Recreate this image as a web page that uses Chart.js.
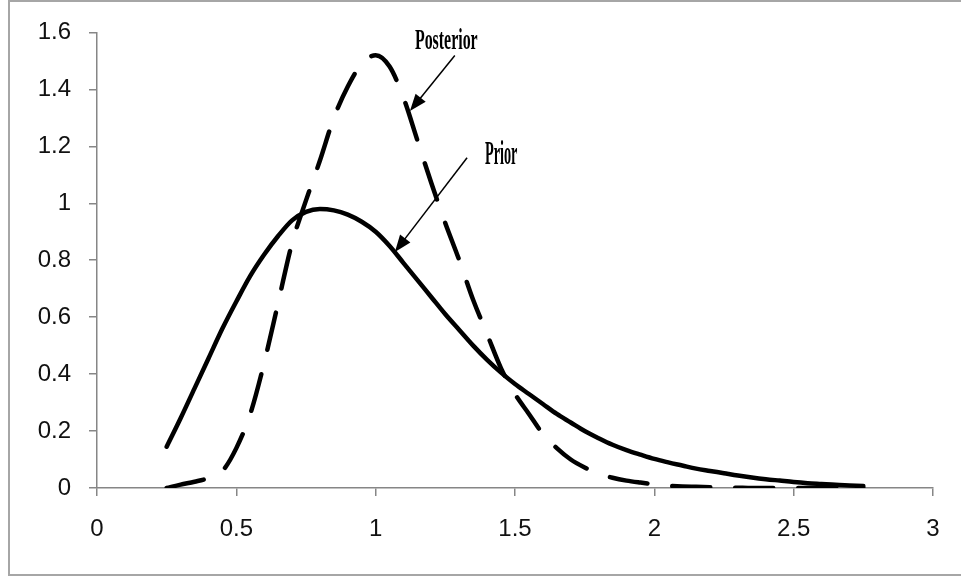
<!DOCTYPE html>
<html>
<head>
<meta charset="utf-8">
<script src="https://cdn.jsdelivr.net/npm/chart.js@4.4.1/dist/chart.umd.min.js"></script>
<style>
  html, body { margin: 0; padding: 0; background: #fff; }
  #wrap { width: 961px; height: 577px; position: relative; }
</style>
</head>
<body>
<div id="wrap"><canvas id="myChart" width="961" height="577"></canvas></div>
<script>
// x values (theta)
const xs = [0.25, 0.30, 0.35, 0.40, 0.45, 0.50, 0.55, 0.60, 0.65, 0.70,
            0.75, 0.80, 0.85, 0.90, 0.95, 1.00, 1.05, 1.10, 1.15, 1.20,
            1.25, 1.30, 1.35, 1.40, 1.45, 1.50, 1.55, 1.60, 1.65, 1.70,
            1.75, 1.80, 1.85, 1.90, 1.95, 2.00, 2.05, 2.10, 2.15, 2.20,
            2.25, 2.30, 2.35, 2.40, 2.45, 2.50, 2.55, 2.60, 2.65, 2.70, 2.75];

const prior = [0.145, 0.245, 0.35, 0.455, 0.56, 0.655, 0.745, 0.82, 0.885, 0.94,
               0.97, 0.98, 0.975, 0.96, 0.935, 0.90, 0.85, 0.79, 0.73, 0.67,
               0.61, 0.555, 0.50, 0.45, 0.405, 0.365, 0.33, 0.295, 0.26, 0.23,
               0.20, 0.175, 0.152, 0.133, 0.117, 0.102, 0.09, 0.079, 0.068, 0.06,
               0.052, 0.044, 0.037, 0.031, 0.026, 0.021, 0.017, 0.014, 0.011, 0.009, 0.007];

const posterior = [0, 0.012, 0.022, 0.035, 0.06, 0.14, 0.26, 0.44, 0.65, 0.86,
                   1.01, 1.15, 1.30, 1.41, 1.49, 1.52, 1.48, 1.37, 1.22, 1.07,
                   0.93, 0.80, 0.66, 0.54, 0.42, 0.33, 0.26, 0.19, 0.14, 0.10,
                   0.072, 0.05, 0.036, 0.026, 0.019, 0.013, 0.008, 0.005, 0.004, 0.003,
                   0.002, 0.001, 0, 0, 0, 0, 0, 0, 0, 0, 0];

const xTicks = [0, 0.5, 1, 1.5, 2, 2.5, 3];
const yTicks = [0, 0.2, 0.4, 0.6, 0.8, 1, 1.2, 1.4, 1.6];

// callouts, placed in data units
const notes = [
  { text: 'Posterior', at: [1.141, 1.543], from: [1.284, 1.519], to: [1.123, 1.324], size: 30, squeeze: 0.53 },
  { text: 'Prior', at: [1.392, 1.139], from: [1.328, 1.160], to: [1.069, 0.829], size: 34, squeeze: 0.42 }
];

const pts = (ys) => xs.map((x, i) => ({ x: x, y: ys[i] }));

const framePlugin = {
  id: 'frame',
  beforeDraw(chart) {
    const c = chart.ctx;
    c.save();
    c.fillStyle = '#fff';
    c.fillRect(0, 0, chart.width, chart.height);
    c.strokeStyle = '#a6a6a6';
    c.lineWidth = 2;
    c.strokeRect(9, 1, chart.width + 20, 574);
    c.restore();
  }
};

const notesPlugin = {
  id: 'notes',
  afterDatasetsDraw(chart) {
    const c = chart.ctx;
    const sx = chart.scales.x, sy = chart.scales.y;
    const px = (p) => [sx.getPixelForValue(p[0]), sy.getPixelForValue(p[1])];
    c.save();
    notes.forEach(n => {
      const [x0, y0] = px(n.from);
      const [x1, y1] = px(n.to);
      const a = Math.atan2(y1 - y0, x1 - x0);
      const len = 17, half = 6.5;
      c.strokeStyle = '#000';
      c.fillStyle = '#000';
      c.lineWidth = 1.5;
      c.beginPath();
      c.moveTo(x0, y0);
      c.lineTo(x1 - Math.cos(a) * len * 0.8, y1 - Math.sin(a) * len * 0.8);
      c.stroke();
      c.beginPath();
      c.moveTo(x1, y1);
      c.lineTo(x1 - Math.cos(a) * len + Math.sin(a) * half, y1 - Math.sin(a) * len - Math.cos(a) * half);
      c.lineTo(x1 - Math.cos(a) * len - Math.sin(a) * half, y1 - Math.sin(a) * len + Math.cos(a) * half);
      c.closePath();
      c.fill();

      const [tx, ty] = px(n.at);
      c.save();
      c.translate(tx, ty);
      c.scale(n.squeeze, 1);
      c.font = 'bold ' + n.size + 'px "Liberation Serif", "Times New Roman", serif';
      c.textAlign = 'left';
      c.textBaseline = 'alphabetic';
      c.fillText(n.text, 0, 0);
      c.restore();
    });
    c.restore();
  }
};

const tickFont = { family: '"Liberation Sans", Arial, sans-serif', size: 24 };

var ctx = document.getElementById('myChart').getContext('2d');
const chart = new Chart(ctx, {
  type: 'line',
  data: {
    datasets: [
      {
        label: 'Prior',
        data: pts(prior),
        borderColor: '#000',
        borderWidth: 4.5,
        borderCapStyle: 'round',
        borderJoinStyle: 'round',
        pointRadius: 0,
        cubicInterpolationMode: 'monotone',
        fill: false
      },
      {
        label: 'Posterior',
        data: pts(posterior),
        borderColor: '#000',
        borderWidth: 4.5,
        borderDash: [38, 25],
        borderCapStyle: 'round',
        borderJoinStyle: 'round',
        pointRadius: 0,
        cubicInterpolationMode: 'monotone',
        fill: false
      }
    ]
  },
  options: {
    responsive: false,
    devicePixelRatio: 1,
    animation: false,
    layout: { padding: { left: 0, top: 26, right: 28, bottom: 0 } },
    plugins: { legend: { display: false }, tooltip: { enabled: false } },
    scales: {
      x: {
        type: 'linear',
        min: 0,
        max: 3,
        afterBuildTicks: (s) => { s.ticks = xTicks.map(v => ({ value: v })); },
        afterFit: (s) => { s.height = 89; },
        grid: { drawOnChartArea: false, drawTicks: true, tickLength: 8, color: '#868686', lineWidth: 1.5 },
        border: { display: true, color: '#868686', width: 1.5 },
        ticks: { color: '#111', font: tickFont, padding: 19, maxRotation: 0, callback: (v) => String(v) }
      },
      y: {
        type: 'linear',
        min: 0,
        max: 1.6,
        afterBuildTicks: (s) => { s.ticks = yTicks.map(v => ({ value: v })); },
        afterFit: (s) => { s.width = 97; },
        grid: { drawOnChartArea: false, drawTicks: true, tickLength: 8, color: '#868686', lineWidth: 1.5 },
        border: { display: true, color: '#868686', width: 1.5 },
        ticks: { color: '#111', font: tickFont, padding: 18, callback: (v) => String(v) }
      }
    }
  },
  plugins: [framePlugin, notesPlugin]
});
</script>
</body>
</html>
